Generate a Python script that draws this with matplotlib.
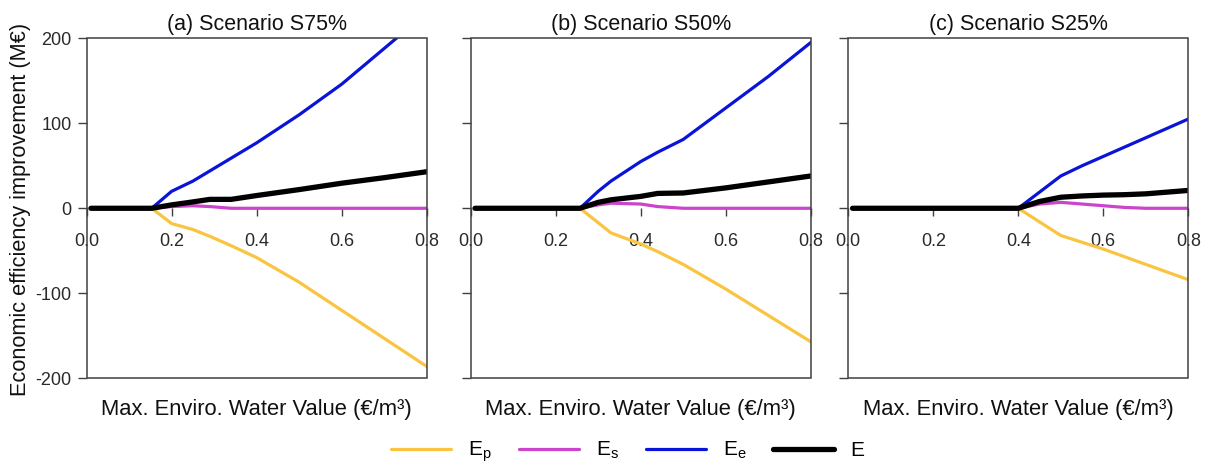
import matplotlib
matplotlib.use("Agg")
import matplotlib.pyplot as plt
from matplotlib.patches import Rectangle

plt.rcParams['font.family'] = ['Liberation Sans', 'DejaVu Sans']
plt.rcParams['mathtext.fontset'] = 'custom'
plt.rcParams['mathtext.rm'] = 'Liberation Sans'
plt.rcParams['mathtext.it'] = 'Liberation Sans:italic'

# ---- data ----
titles = ["(a) Scenario S75%", "(b) Scenario S50%", "(c) Scenario S25%"]
series_labels = [r"E$_\mathrm{p}$", r"E$_\mathrm{s}$", r"E$_\mathrm{e}$", "E"]

x_a = [0.01, 0.1, 0.153, 0.2, 0.25, 0.29, 0.34, 0.4, 0.5, 0.6, 0.7, 0.8]
ep_a = [0, 0, 0, -18, -25, -33, -44, -58, -87, -120, -153, -186]
es_a = [0, 0, 0, 2, 3, 2, 0, 0, 0, 0, 0, 0]
ee_a = [0, 0, 0, 20, 32, 44, 59, 77, 110, 146, 188, 230]
e_a = [0, 0, 0, 4, 7.5, 10.5, 10.5, 15, 22, 29.5, 36, 43]

x_b = [0.01, 0.1, 0.257, 0.3, 0.33, 0.4, 0.44, 0.5, 0.6, 0.7, 0.8]
ep_b = [0, 0, 0, -17, -29, -42, -51, -66, -95, -126, -157]
es_b = [0, 0, 0, 4, 6, 5, 2, 0, 0, 0, 0]
ee_b = [0, 0, 0, 20, 32, 55, 66, 81, 118, 155, 195]
e_b = [0, 0, 0, 7, 10, 14, 17.5, 18, 24, 31, 38]

x_c = [0.01, 0.2, 0.4, 0.45, 0.5, 0.55, 0.6, 0.65, 0.7, 0.8]
ep_c = [0, 0, 0, -16, -32, -40, -48, -57, -66, -84]
es_c = [0, 0, 0, 5, 7, 5, 3, 1, 0, 0]
ee_c = [0, 0, 0, 19, 38, 50, 61, 72, 83, 105]
e_c = [0, 0, 0, 8, 13, 14.5, 15.5, 16, 17, 21]

x_ticks = [0.0, 0.2, 0.4, 0.6, 0.8]
y_ticks = [-200, -100, 0, 100, 200]

panels = [
    (x_a, [ep_a, es_a, ee_a, e_a]),
    (x_b, [ep_b, es_b, ee_b, e_b]),
    (x_c, [ep_c, es_c, ee_c, e_c]),
]

colors = ["#F9C440", "#CC44CC", "#0A14D8", "#000000"]
widths = [2.3, 2.3, 2.3, 3.8]

# ---- figure ----
fig = plt.figure(figsize=(12.07, 4.68), dpi=100)
lefts = [0.0718, 0.390, 0.7028]
bottom, width, height = 0.1917, 0.2817, 0.7265
frame_col = "#404040"
text_col = "#2a2a2a"

handles = []
for i, (xs, ys) in enumerate(panels):
    ax = fig.add_axes([lefts[i], bottom, width, height])
    for y, c, lw, lab in zip(ys, colors, widths, series_labels):
        ln, = ax.plot(xs, y, color=c, lw=lw, solid_capstyle='round', label=lab)
        if i == 0:
            handles.append(ln)
    ax.set_xlim(0, 0.8)
    ax.set_ylim(-200, 200)
    ax.set_xticks(x_ticks)
    ax.set_xticklabels([f"{v:.1f}" for v in x_ticks])
    ax.set_yticks(y_ticks)
    if i == 0:
        ax.set_yticklabels([str(v) for v in y_ticks])
    else:
        ax.set_yticklabels([])
    ax.spines['bottom'].set_position(('data', 0))
    for s in ax.spines.values():
        s.set_visible(False)
    ax.add_patch(Rectangle((0, 0), 1, 1, transform=ax.transAxes, fill=False,
                           edgecolor=frame_col, lw=1.1, clip_on=False, zorder=5))
    ax.tick_params(axis='x', direction='out', length=5.5, width=1, color=frame_col,
                   pad=12, labelsize=13, labelcolor=text_col)
    ax.tick_params(axis='y', direction='out', length=6.8, width=1, color=frame_col,
                   pad=4, labelsize=13, labelcolor=text_col)
    ax.set_title(titles[i], fontsize=15.5, pad=6, color="#111111")
    ax.set_xlabel("Max. Enviro. Water Value (€/m³)", fontsize=15.8, color="#111111")
    ax.xaxis.set_label_coords(0.5, -0.06)

fig.text(0.017, 0.553, "Economic efficiency improvement (M€)", rotation=90,
         ha='center', va='center', fontsize=15.7, color="#111111")

fig.legend(handles=handles, labels=series_labels, loc='center', ncol=4,
           bbox_to_anchor=(0.520, 0.034), frameon=False, fontsize=15,
           handlelength=2.9, handletextpad=0.8, columnspacing=1.3)

fig.savefig("out.png", dpi=100)
